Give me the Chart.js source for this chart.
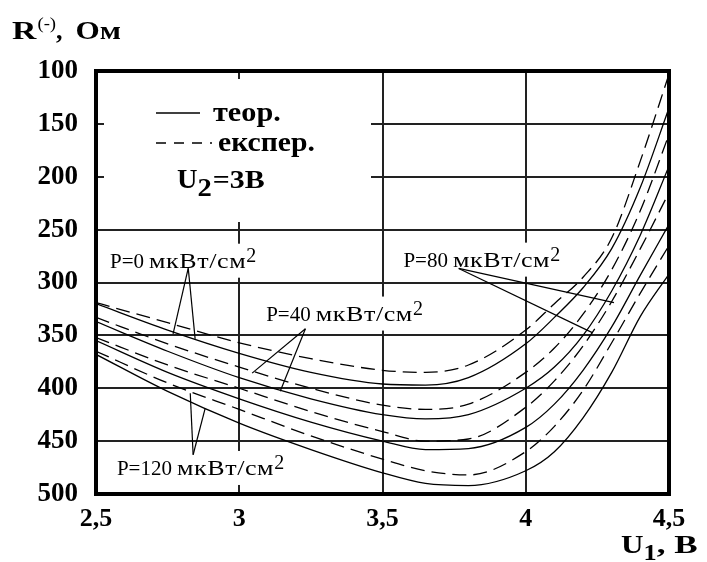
<!DOCTYPE html>
<html><head><meta charset="utf-8">
<script src="https://cdn.jsdelivr.net/npm/chart.js@4.4.0/dist/chart.umd.min.js"></script>
<style>html,body{margin:0;padding:0;background:#fff}#wrap{width:707px;height:562px;position:relative}</style>
</head><body><div id="wrap"><canvas id="c" width="707" height="562"></canvas></div>
<script>
// ---------- data ----------
const U = [2.5, 2.75, 3.0, 3.25, 3.5, 3.65, 3.8, 4.0, 4.1, 4.2, 4.3, 4.4, 4.5];
const rExpP0    = [319, 338, 357, 372, 383, 385, 378, 345, 320, 295, 258, 185, 103];
const rTheorP0  = [320, 345, 367, 385, 396, 397, 390, 358, 333, 305, 268, 210, 135];
const rExpP40   = [333, 358, 380, 400, 416, 420, 415, 385, 362, 330, 288, 232, 160];
const rTheorP40 = [337, 365, 390, 410, 425, 429, 425, 400, 380, 350, 308, 255, 190];
const rExpP80   = [352, 378, 400, 422, 441, 450, 448, 418, 393, 360, 318, 268, 215];
const rTheorP80 = [355, 385, 410, 432, 450, 458, 457, 437, 415, 383, 342, 293, 245];
const rExpP120  = [365, 395, 420, 445, 467, 478, 482, 460, 436, 402, 357, 310, 265];
const rTheorP120= [368, 403, 433, 458, 480, 490, 492, 478, 460, 428, 385, 332, 292];
const X_TICKS = [2.5, 3, 3.5, 4, 4.5];
const Y_TICKS = [100, 150, 200, 250, 300, 350, 400, 450, 500];

const SERIF = '"Liberation Serif","Times New Roman",serif';

const theorSeries = [rTheorP0, rTheorP40, rTheorP80, rTheorP120];
const expSeries = [rExpP0, rExpP40, rExpP80, rExpP120];
const datasets = [];
theorSeries.forEach(s => datasets.push({data: U.map((u,i)=>({x:u,y:s[i]})), borderColor:'#000', borderWidth:1.3, pointRadius:0, showLine:true, cubicInterpolationMode:'monotone', fill:false}));
expSeries.forEach(s => datasets.push({data: U.map((u,i)=>({x:u,y:s[i]})), borderColor:'#000', borderWidth:1.3, borderDash:[14,7], pointRadius:0, showLine:true, cubicInterpolationMode:'monotone', fill:false}));

// annotation labels (anchor in data coords: U, R)
const P_LABELS = [
  {num:'0',   u:2.549, r:286,   apex:[2.822,286.5], ends:[[2.769,348.6],[2.846,353.3]]},
  {num:'40',  u:3.094, r:336,   apex:[3.231,343.8], ends:[[3.045,385.7],[3.143,402.9]]},
  {num:'80',  u:3.573, r:285,   apex:[3.766,286.7], ends:[[4.308,319],[4.234,347.6]]},
  {num:'120', u:2.573, r:482,   apex:[2.839,462.9], ends:[[2.829,404.8],[2.881,419]]}
];

// rich text: parts [{t, s, b, dy, gap, ls, sx}]
function drawRich(ctx, x, y, parts, measureOnly) {
  let cx = x;
  for (const p of parts) {
    ctx.font = (p.b ? 'bold ' : '') + p.s + 'px ' + SERIF;
    const sx = p.sx || 1, ls = p.ls || 0;
    for (const ch of (ls ? Array.from(p.t) : [p.t])) {
      const w = ctx.measureText(ch).width * sx;
      if (!measureOnly) {
        ctx.save();
        ctx.translate(cx, y + (p.dy || 0));
        ctx.scale(sx, 1);
        ctx.fillText(ch, 0, 0);
        ctx.restore();
      }
      cx += w + ls;
    }
    cx += (p.gap || 0);
  }
  return cx - x;
}
function pParts(num) {
  return [
    {t:'P=' + num, s:21, gap:5},
    {t:'мкВт/см', s:20, sx:1.3, ls:0.6},
    {t:'2', s:20, dy:-6}
  ];
}

const maskPlugin = {
  id:'masks',
  beforeDatasetsDraw(chart) {
    const {ctx, scales:{x, y}} = chart;
    ctx.save();
    ctx.fillStyle = '#fff';
    // legend region
    ctx.fillRect(104, 79, 371-104, 222-79);
    ctx.textBaseline = 'alphabetic';
    for (const L of P_LABELS) {
      const px = x.getPixelForValue(L.u), py = y.getPixelForValue(L.r);
      const w = drawRich(ctx, px, py, pParts(L.num), true);
      ctx.fillRect(px - 4, py - 24, w + 8, 34);
    }
    ctx.restore();
  },
  afterDatasetsDraw(chart) {
    const {ctx, chartArea:a, scales:{x, y}} = chart;
    ctx.save();
    // frame
    ctx.strokeStyle = '#000';
    ctx.lineWidth = 4;
    ctx.strokeRect(a.left, a.top, a.right - a.left, a.bottom - a.top);
    // leaders
    ctx.lineWidth = 1.2;
    for (const L of P_LABELS) {
      const ax = x.getPixelForValue(L.apex[0]), ay = y.getPixelForValue(L.apex[1]);
      for (const e of L.ends) {
        ctx.beginPath();
        ctx.moveTo(ax, ay);
        ctx.lineTo(x.getPixelForValue(e[0]), y.getPixelForValue(e[1]));
        ctx.stroke();
      }
    }
    // P labels
    ctx.fillStyle = '#000';
    ctx.textBaseline = 'alphabetic';
    for (const L of P_LABELS) {
      drawRich(ctx, x.getPixelForValue(L.u), y.getPixelForValue(L.r), pParts(L.num));
    }
    // legend
    ctx.lineWidth = 1.5;
    ctx.beginPath(); ctx.moveTo(156, 113); ctx.lineTo(200, 113); ctx.stroke();
    ctx.setLineDash([10, 8]);
    ctx.beginPath(); ctx.moveTo(156, 143); ctx.lineTo(212, 143); ctx.stroke();
    ctx.setLineDash([]);
    drawRich(ctx, 213, 121, [{t:'теор.', s:27, b:true, sx:1.12}]);
    drawRich(ctx, 218, 151, [{t:'експер.', s:27, b:true, sx:1.1}]);
    drawRich(ctx, 177, 188, [{t:'U', s:27, b:true, sx:1.05}, {t:'2', s:26, b:true, dy:8, gap:1, sx:1.1}, {t:'=3В', s:26, b:true, sx:1.15}]);
    // axis titles
    drawRich(ctx, 12, 39, [{t:'R', s:26, b:true, sx:1.3, gap:1}, {t:'(-)', s:17, dy:-10, sx:1.1}, {t:',', s:26, b:true, gap:13}, {t:'Ом', s:26, b:true, sx:1.2}]);
    drawRich(ctx, 621, 553, [{t:'U', s:26, b:true, sx:1.2}, {t:'1', s:24, b:true, dy:7, sx:1.1}, {t:', В', s:26, b:true, sx:1.35}]);
    ctx.restore();
  }
};

new Chart(document.getElementById('c'), {
  type:'scatter',
  data:{datasets},
  options:{
    responsive:false, animation:false, devicePixelRatio:1,
    layout:{padding:{left:0, top:71, right:38, bottom:0}},
    plugins:{legend:{display:false}, tooltip:{enabled:false}},
    scales:{
      x:{type:'linear', min:2.5, max:4.5,
        afterBuildTicks:s=>{s.ticks = X_TICKS.map(v=>({value:v}));},
        afterFit:s=>{s.height = 68;},
        grid:{color:'#222', lineWidth:2, drawTicks:false},
        border:{display:false},
        ticks:{padding:10, color:'#000', font:{family:SERIF, size:26, weight:'bold'},
          callback:v=>String(v).replace('.', ',')}},
      y:{type:'linear', reverse:true, min:100, max:500,
        afterBuildTicks:s=>{s.ticks = Y_TICKS.map(v=>({value:v}));},
        afterFit:s=>{s.width = 96;},
        grid:{color:'#222', lineWidth:2, drawTicks:false},
        border:{display:false},
        ticks:{padding:18, color:'#000', font:{family:SERIF, size:27, weight:'bold'}}}
    }
  },
  plugins:[maskPlugin]
});
</script></body></html>
